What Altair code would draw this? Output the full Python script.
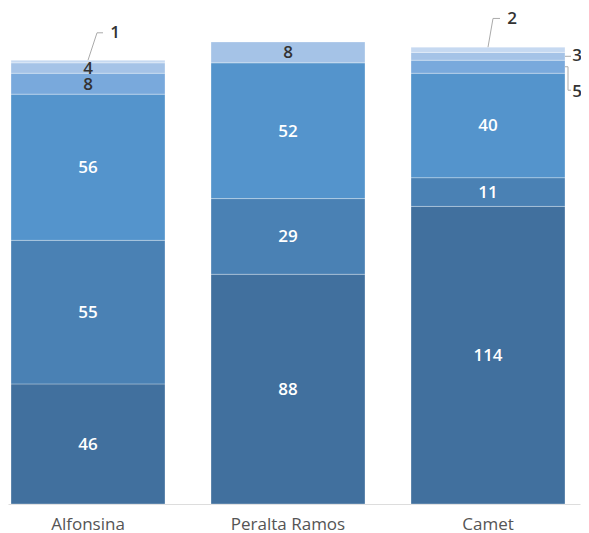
import altair as alt
import pandas as pd

categories = ["Alfonsina", "Peralta Ramos", "Camet"]
levels = [1, 2, 3, 4, 5, 6]
alfonsina = [46, 55, 56, 8, 4, 1]
peralta_ramos = [88, 29, 52, 0, 8, 0]
camet = [114, 11, 40, 5, 3, 2]
series = {"Alfonsina": alfonsina, "Peralta Ramos": peralta_ramos, "Camet": camet}

level_colors = ["#41709e", "#4a81b4", "#5494cc", "#79a9dc", "#a5c3e7", "#c6d9f1"]
text_colors = ["white", "white", "white", "#333333", "#333333", "#333333"]

FONT = "Open Sans"

rows = []
for cat in categories:
    acc = 0
    for lvl, v in zip(levels, series[cat]):
        if v <= 0:
            continue
        rows.append({
            "cat": cat, "level": lvl, "value": v,
            "start": acc, "end": acc + v, "mid": acc + v / 2,
            "inside": v >= 4 and not (cat == "Camet" and v < 10),
            "tcolor": text_colors[lvl - 1],
        })
        acc += v
df = pd.DataFrame(rows)
inside = df[df["inside"]].copy()


def seg(cat, lvl):
    return df[(df["cat"] == cat) & (df["level"] == lvl)].iloc[0]


# leader lines for the small segments; offsets in px from the band start
lines = []
labels = []
r = seg("Alfonsina", 6)
top = r["end"]
lines += [("a1", 0, "Alfonsina", 77, top), ("a1", 1, "Alfonsina", 86, top + 10.5), ("a1", 2, "Alfonsina", 92, top + 10.5)]
labels.append(("Alfonsina", 104, top + 10.3, str(r["value"])))
r = seg("Camet", 6)
top = r["end"]
lines += [("c2", 0, "Camet", 77, top), ("c2", 1, "Camet", 82, top + 11), ("c2", 2, "Camet", 89, top + 11)]
labels.append(("Camet", 101, top + 10.6, str(r["value"])))
r = seg("Camet", 5)
m = r["mid"]
lines += [("c3", 0, "Camet", 154, m), ("c3", 1, "Camet", 160, m)]
labels.append(("Camet", 166, m, str(r["value"])))
r = seg("Camet", 4)
m = r["mid"]
lines += [("c5", 0, "Camet", 154, m), ("c5", 1, "Camet", 157, m), ("c5", 2, "Camet", 157, m - 9), ("c5", 3, "Camet", 160, m - 9)]
labels.append(("Camet", 166, m - 9.5, str(r["value"])))

lines_df = pd.DataFrame(lines, columns=["g", "o", "cat", "off", "y"])
labels_df = pd.DataFrame(labels, columns=["cat", "off", "y", "label"])

xscale = alt.Scale(domain=categories, paddingInner=0.23, paddingOuter=0.045, align=0.1667)
yscale = alt.Scale(domain=[0, 190], nice=False, zero=True)

x_enc = alt.X("cat:N", scale=xscale, sort=categories,
              axis=alt.Axis(title=None, labelAngle=0, ticks=False, domain=True,
                            domainColor="#dddddd", labelPadding=12, labelFontSize=17,
                            labelColor="#555555", labelFont=FONT, labelFontWeight=500))

bars = alt.Chart(df).mark_bar(stroke="white", strokeWidth=1, strokeOpacity=0.3).encode(
    x=x_enc,
    y=alt.Y("start:Q", scale=yscale, axis=None),
    y2="end:Q",
    color=alt.Color("level:O", scale=alt.Scale(domain=levels, range=level_colors), legend=None),
)

inner_text = alt.Chart(inside).mark_text(fontSize=17, font=FONT, fontWeight=600, baseline="middle", dy=1).encode(
    x=alt.X("cat:N", sort=categories),
    y=alt.Y("mid:Q"),
    text="value:Q",
    color=alt.Color("tcolor:N", scale=None),
)

leaders = alt.Chart(lines_df).mark_line(color="#aaaaaa", strokeWidth=1).encode(
    x=alt.X("cat:N", sort=categories),
    xOffset=alt.XOffset("off:Q", scale=None),
    y=alt.Y("y:Q"),
    detail="g:N",
    order="o:Q",
)

outer_text = alt.Chart(labels_df).mark_text(fontSize=17, font=FONT, fontWeight=600, baseline="middle", color="#333333").encode(
    x=alt.X("cat:N", sort=categories),
    xOffset=alt.XOffset("off:Q", scale=None),
    y=alt.Y("y:Q"),
    text="label:N",
)

chart = alt.layer(bars, inner_text, leaders, outer_text).properties(
    width=572, height=496,
    autosize=alt.AutoSizeParams(type="none"),
    padding={"left": 0, "top": 0, "right": 1, "bottom": 29},
).configure_view(stroke=None)

chart.save("out.html", embed_options={"renderer": "svg", "actions": False})
